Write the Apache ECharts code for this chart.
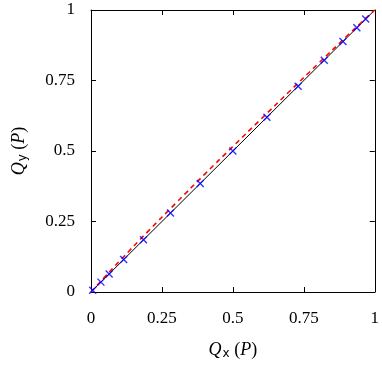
<!DOCTYPE html>
<html><head><meta charset="utf-8">
<script src="https://cdn.jsdelivr.net/npm/echarts@6/dist/echarts.min.js"></script>
<style>html,body{margin:0;padding:0;background:#fff}#c{width:382px;height:365px}</style>
</head><body><div id="c"></div>
<script>
var tickValues = [0, 0.25, 0.5, 0.75, 1];
var tickLabels = ['0', '0.25', '0.5', '0.75', '1'];
var diagX = [0, 1];
var diagY = [0, 1];
var markX = [0.006, 0.035, 0.064, 0.115, 0.185, 0.28, 0.385, 0.5, 0.62, 0.73, 0.822, 0.888, 0.937, 0.968];
var markY = [0.006, 0.035, 0.064, 0.115, 0.185, 0.28, 0.385, 0.5, 0.62, 0.73, 0.822, 0.888, 0.937, 0.968];
var curveX = [0, 0.05, 0.1, 0.2, 0.3, 0.4, 0.5, 0.6, 0.7, 0.8, 0.9, 0.95, 1];
var curveY = [0, 0.055, 0.109, 0.214, 0.316, 0.417, 0.516, 0.614, 0.712, 0.809, 0.906, 0.953, 1];

function pairs(xs, ys){ return xs.map(function(x,i){ return [x, ys[i]]; }); }
function fmt(v){ var i = tickValues.indexOf(v); return i >= 0 ? tickLabels[i] : ''; }

var serif = '"Liberation Serif", "DejaVu Serif", serif';
var chart = echarts.init(document.getElementById('c'));
function axisCommon(){ return {
  type: 'value', min: 0, max: 1, interval: 0.25,
  axisLine: {show: true, onZero: false, lineStyle: {color: '#000', width: 1}},
  axisTick: {show: true, inside: true, length: 5, lineStyle: {color: '#000', width: 1}},
  splitLine: {show: false}
}; }
var nameRich = {
  q: {fontFamily: serif, fontStyle: 'italic', fontSize: 18, color: '#000'},
  s: {fontFamily: '"DejaVu Sans", sans-serif', fontSize: 12, color: '#000', verticalAlign: 'bottom', padding: [8,0,0,1]},
  n: {fontFamily: serif, fontSize: 18, color: '#000'}
};
chart.setOption({
  animation: false,
  grid: {left: 91, right: 4, top: 10, bottom: 69},
  xAxis: [
    Object.assign(axisCommon(), {
      position: 'bottom',
      axisLabel: {formatter: fmt, fontFamily: serif, fontSize: 17, color: '#000', margin: 18},
      name: '{q|Q}{s|x}{n| (}{q|P}{n|)}', nameLocation: 'middle', nameGap: 48,
      nameTextStyle: {rich: nameRich}
    }),
    Object.assign(axisCommon(), {position: 'top', axisLabel: {show: false}})
  ],
  yAxis: [
    Object.assign(axisCommon(), {
      position: 'left',
      axisLabel: {formatter: fmt, fontFamily: serif, fontSize: 17, color: '#000', margin: 16},
      name: '{q|Q}{s|y}{n| (}{q|P}{n|)}', nameLocation: 'middle', nameGap: 62,
      nameTextStyle: {rich: nameRich}
    }),
    Object.assign(axisCommon(), {position: 'right', axisLabel: {show: false}})
  ],
  series: [
    {type: 'line', data: pairs(diagX, diagY), symbol: 'none', lineStyle: {color: '#000', width: 1}, z: 2},
    {type: 'line', data: pairs(curveX, curveY), symbol: 'none', smooth: true,
     lineStyle: {color: '#ff0000', width: 1.6, type: [5, 4]}, z: 3},
    {type: 'scatter', data: pairs(markX, markY), symbol: 'path://M0,0L10,10M10,0L0,10', symbolSize: 7,
     itemStyle: {color: 'none', borderColor: '#0000ff', borderWidth: 1.4}, z: 4}
  ]
});
</script></body></html>
